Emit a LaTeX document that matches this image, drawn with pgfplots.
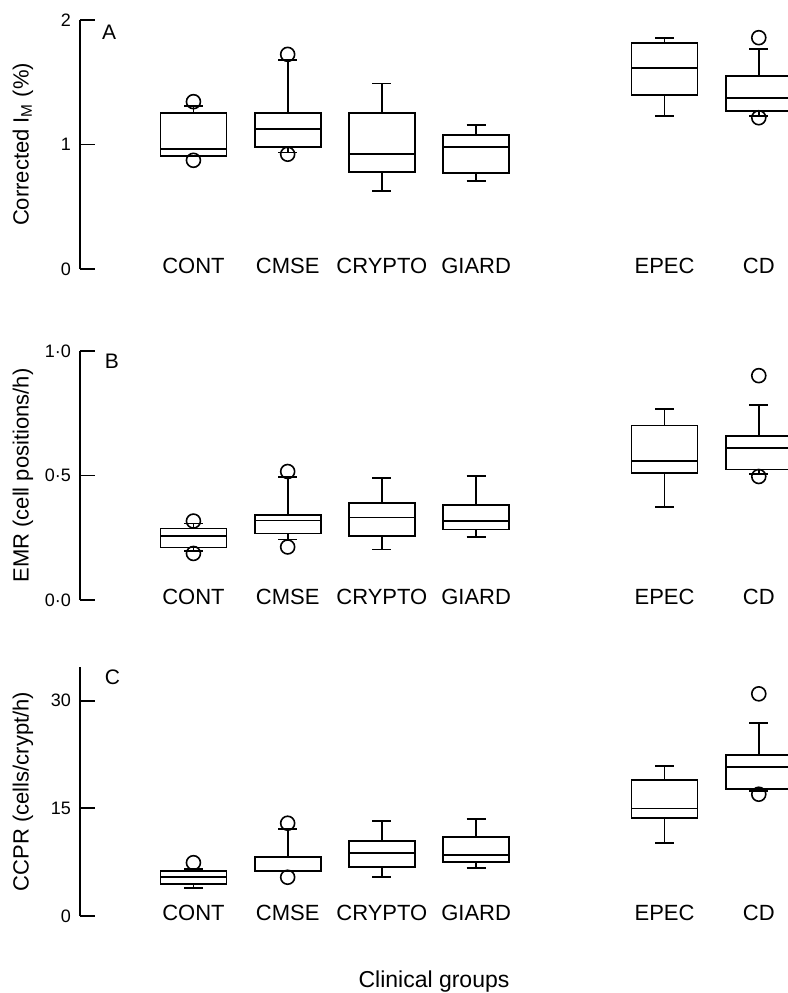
\documentclass[border=0pt]{standalone}
\usepackage{pgfplots}
\pgfplotsset{compat=1.18}
\usepgfplotslibrary{statistics}
\usepackage{fontspec}
\setmainfont{Liberation Sans}

\newcommand{\bx}[7]{%
  \addplot[black, line width=0.9pt, mark=o, mark size=3.5pt, mark options={solid, line width=0.8pt, fill=none},
    boxplot prepared={draw direction=y, draw position=#1, lower whisker=#2, lower quartile=#3,
      median=#4, upper quartile=#5, upper whisker=#6}]
    coordinates {#7};}

\pgfplotsset{panel/.style={
  scale only axis, width=354pt, height=124.5pt,
  xmin=-0.204, xmax=7.31, ymin=0,
  anchor=south west,
  axis y line*=left, axis x line*=bottom,
  x axis line style={draw=none},
  axis line style={line width=0.9pt},
  xtick={1,2,3,4,6,7},
  xticklabels={CONT,CMSE,CRYPTO,GIARD,EPEC,CD},
  xtick style={draw=none},
  xticklabel style={anchor=center, yshift=1.5pt, font=\fontsize{11}{13}\selectfont},
  ytick style={black, line width=0.9pt},
  tick align=inside, major tick length=7.5pt,
  yticklabel style={font=\fontsize{9}{11}\selectfont, xshift=-1pt},
  ylabel style={at={(axis description cs:-0.0805,0.5)}, anchor=center, font=\fontsize{11}{13}\selectfont},
  boxplot/draw direction=y,
  boxplot/box extend=0.7,
  boxplot/whisker extend=0.2,
  clip=true,
}}

\begin{document}
\begin{tikzpicture}
\useasboundingbox (0,0) rectangle (394pt,496.5pt);

% Panel A
\begin{axis}[panel, at={(40pt,362pt)}, ymax=2,
  ytick={0,1,2}, yticklabels={0,1,2},
  ylabel={Corrected I\textsubscript{M} (\%)}]
\bx{1}{0.91}{0.91}{0.964}{1.25}{1.31}{(0,1.344) (0,0.873)}
\bx{2}{0.935}{0.977}{1.122}{1.25}{1.676}{(0,1.724) (0,0.922)}
\bx{3}{0.626}{0.78}{0.926}{1.25}{1.49}{}
\bx{4}{0.704}{0.769}{0.982}{1.079}{1.157}{}
\bx{6}{1.229}{1.398}{1.614}{1.818}{1.855}{}
\bx{7}{1.228}{1.272}{1.376}{1.548}{1.767}{(0,1.858) (0,1.215)}
\node[font=\fontsize{10.5}{12}\selectfont] at (axis description cs:0.041,0.952) {A};
\end{axis}

% Panel B
\begin{axis}[panel, at={(40pt,196.5pt)}, ymax=1,
  ytick={0,0.5,1}, yticklabels={0·0,0·5,1·0},
  ylabel={EMR (cell positions/h)}]
\bx{1}{0.197}{0.211}{0.256}{0.287}{0.307}{(0,0.317) (0,0.187)}
\bx{2}{0.243}{0.267}{0.319}{0.34}{0.493}{(0,0.516) (0,0.213)}
\bx{3}{0.203}{0.256}{0.331}{0.389}{0.489}{}
\bx{4}{0.253}{0.283}{0.317}{0.381}{0.497}{}
\bx{6}{0.375}{0.509}{0.557}{0.701}{0.768}{}
\bx{7}{0.505}{0.524}{0.611}{0.66}{0.783}{(0,0.901) (0,0.496)}
\node[font=\fontsize{10.5}{12}\selectfont] at (axis description cs:0.045,0.96) {B};
\end{axis}

% Panel C
\begin{axis}[panel, at={(40pt,38.5pt)}, ymax=34.7,
  ytick={0,15,30}, yticklabels={0,15,30},
  ylabel={CCPR (cells/crypt/h)},
  xlabel={Clinical groups},
  xlabel style={at={(axis description cs:0.5,0)}, anchor=center, yshift=-33pt, font=\fontsize{11.5}{13}\selectfont}]
\bx{1}{3.95}{4.46}{5.40}{6.28}{6.5}{(0,7.43)}
\bx{2}{6.2}{6.32}{6.32}{8.19}{12.1}{(0,12.93) (0,5.4)}
\bx{3}{5.4}{6.79}{8.74}{10.5}{13.29}{}
\bx{4}{6.74}{7.53}{8.51}{10.98}{13.53}{}
\bx{6}{10.18}{13.67}{14.97}{18.97}{20.88}{}
\bx{7}{17.43}{17.71}{20.74}{22.45}{26.9}{(0,30.96) (0,16.97)}
\node[font=\fontsize{10.5}{12}\selectfont] at (axis description cs:0.046,0.96) {C};
\end{axis}
\end{tikzpicture}
\end{document}
